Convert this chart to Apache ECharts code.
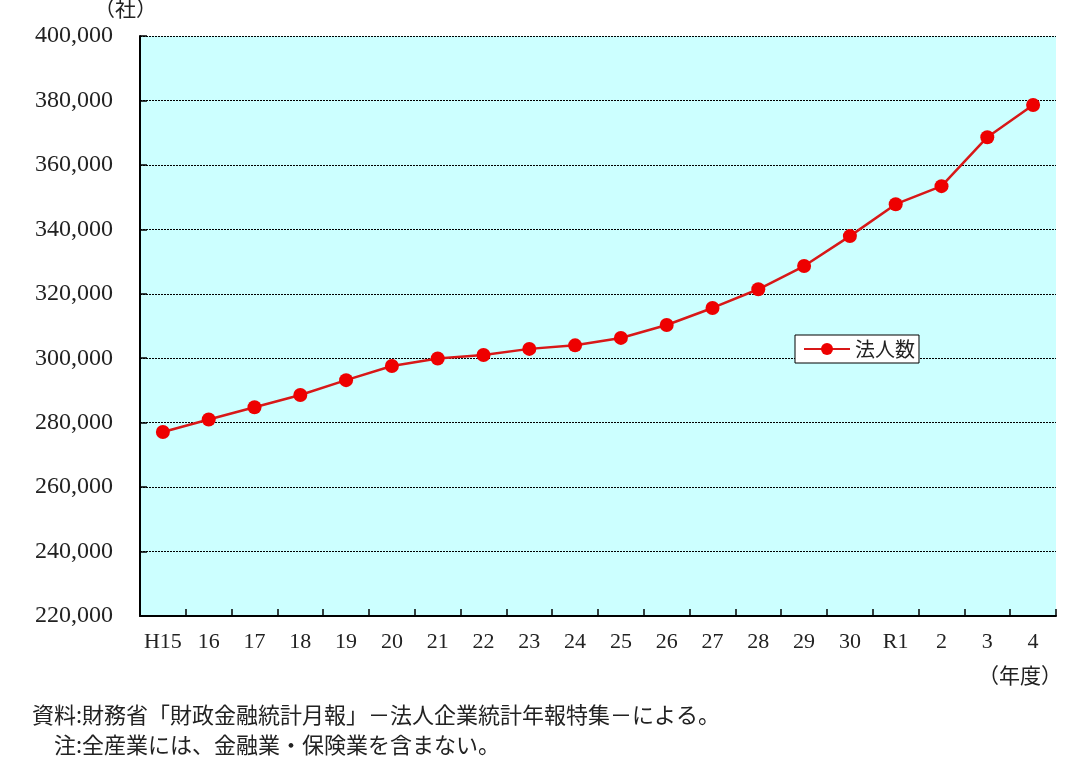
<!DOCTYPE html>
<html><head><meta charset="utf-8">
<script src="https://cdn.jsdelivr.net/npm/echarts@6/dist/echarts.min.js"></script>
<style>html,body{margin:0;padding:0;background:#fff;}#c{width:1068px;height:767px;}</style>
</head><body><div id="c"></div>
<script>
const categories = ['H15','16','17','18','19','20','21','22','23','24','25','26','27','28','29','30','R1','2','3','4'];
const corporations = [277100, 281000, 284800, 288600, 293200, 297600, 299900, 301000, 302900, 304000, 306300, 310300, 315600, 321400, 328600, 337900, 347800, 353400, 368600, 378600];
const seriesName = '法人数';
const yUnit = '（社）';
const xUnit = '（年度）';
const notes = ['資料:財務省「財政金融統計月報」－法人企業統計年報特集－による。', '　注:全産業には、金融業・保険業を含まない。'];

const serif = '"Liberation Serif","DejaVu Serif","Noto Sans CJK JP",serif';
const jp = '"Noto Sans CJK JP",sans-serif';
const chart = echarts.init(document.getElementById('c'));
chart.setOption({
  animation: false,
  backgroundColor: '#ffffff',
  grid: {left: 140, right: 12, top: 36, bottom: 151, show: true, backgroundColor: '#CCFFFF', borderWidth: 0},
  graphic: [
    {type: 'text', left: 94, top: -2, style: {text: yUnit, font: '21px ' + jp, fill: '#222'}},
    {type: 'text', right: 6, top: 665, style: {text: xUnit, font: '21px ' + jp, fill: '#222'}},
    {type: 'text', left: 32, top: 704, style: {text: notes[0], font: '22px ' + jp, fill: '#222'}},
    {type: 'text', left: 32, top: 734, style: {text: notes[1], font: '22px ' + jp, fill: '#222'}}
  ],
  legend: {
    left: 795, top: 335, data: [seriesName], backgroundColor: '#ffffff', borderColor: '#000', borderWidth: 1,
    borderRadius: 0, padding: [4, 4, 4, 8], itemWidth: 46, itemHeight: 15, itemGap: 0,
    textStyle: {fontFamily: jp, fontSize: 20, color: '#222'}
  },
  xAxis: {
    type: 'category', data: categories, boundaryGap: true,
    axisLine: {lineStyle: {color: '#000', width: 2}},
    axisTick: {show: true, inside: true, length: 7, interval: 0, lineStyle: {color: '#000', width: 1.5}},
    axisLabel: {interval: 0, fontFamily: serif, fontSize: 22, color: '#222', margin: 15}
  },
  yAxis: {
    type: 'value', min: 220000, max: 400000, interval: 20000,
    axisLine: {show: true, lineStyle: {color: '#000', width: 2}},
    axisTick: {show: true, inside: true, length: 7, lineStyle: {color: '#000', width: 1.5}},
    axisLabel: {fontFamily: serif, fontSize: 24, color: '#222', margin: 27,
      formatter: v => v.toLocaleString('en-US')},
    splitLine: {show: true, lineStyle: {color: '#000', type: [2, 1], width: 1}}
  },
  series: [{
    name: seriesName, type: 'line', data: corporations,
    symbol: 'circle', symbolSize: 14,
    lineStyle: {color: '#D81818', width: 2.5},
    itemStyle: {color: '#EE0000'}
  }]
});
</script></body></html>
